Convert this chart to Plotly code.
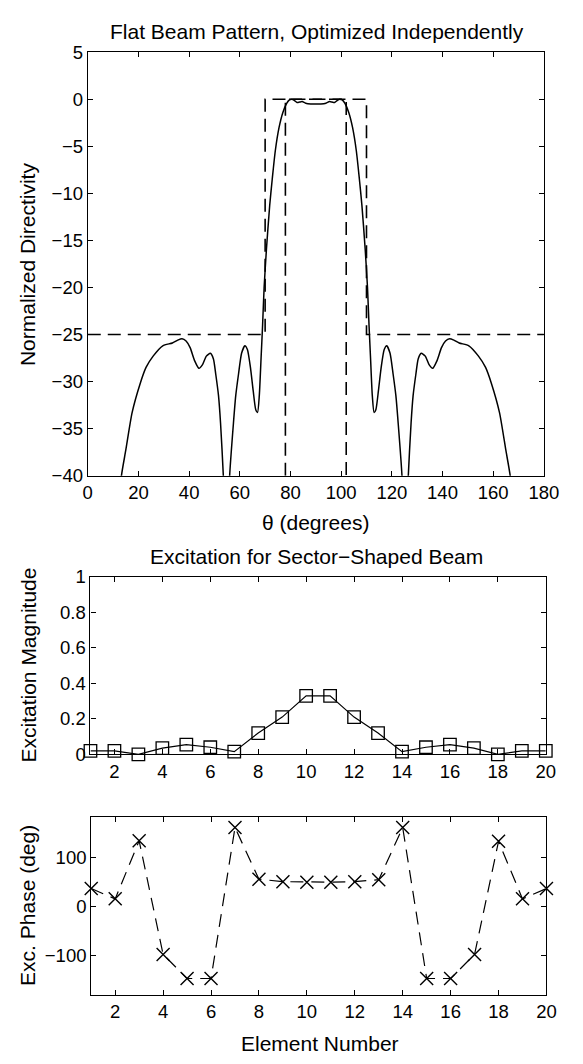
import plotly.graph_objects as go

# ---------------- data ----------------
# Top: normalized directivity pattern (dB) vs theta (deg), digitized
theta_deg = [12.6, 13.3, 15.0, 17.5, 20.7, 23.0, 25.8, 29.6, 33.4, 35.5, 37.2, 38.8,
             40.4, 42.2, 43.9, 45.3, 46.8, 48.4, 49.6, 50.5, 51.6, 52.4, 53.5, 54.2,
             54.8, 55.4, 56.0, 57.5, 58.4, 59.5, 60.7, 62.0, 63.0, 64.2, 65.3, 66.3,
             67.0, 67.7, 68.4, 69.0, 69.6, 70.5, 71.8, 72.8, 74.0, 75.5, 77.0, 78.5,
             79.6, 80.6, 81.6, 82.6, 83.6, 84.6, 86.0, 88.0, 90.0,
             92.0, 94.0, 95.4, 96.4, 97.4, 98.4, 99.4, 100.4, 101.5, 103.0, 104.5,
             106.0, 107.2, 108.2, 109.5, 110.4, 111.0, 111.6, 112.3, 113.0, 113.7,
             114.7, 115.8, 117.0, 118.0, 119.3, 120.5, 121.6, 122.5, 124.0, 124.6,
             125.2, 125.8, 126.5, 127.6, 128.4, 129.5, 130.4, 131.6, 133.2, 134.7,
             136.1, 137.8, 139.6, 141.2, 142.8, 144.5, 146.6, 150.4, 154.2, 157.0,
             159.3, 162.5, 165.0, 166.7, 167.4]
pattern_db = [-43.0, -40.0, -37.3, -33.3, -30.2, -28.5, -27.3, -26.2, -25.9, -25.6, -25.45, -25.7,
              -26.4, -27.8, -28.6, -28.2, -27.3, -27.0, -27.6, -29.2, -31.5, -34.4, -40.0, -46.0,
              -52.0, -46.0, -40.0, -34.4, -31.5, -29.2, -27.0, -26.2, -26.6, -28.5, -31.0, -33.0,
              -33.3, -31.5, -27.5, -24.0, -20.0, -16.0, -11.3, -8.5, -5.5, -3.0, -1.4, -0.45,
              -0.08, 0.0, -0.15, -0.35, -0.3, -0.25, -0.42, -0.5, -0.5,
              -0.5, -0.42, -0.25, -0.3, -0.35, -0.15, 0.0, -0.08, -0.45, -1.4, -3.0,
              -5.5, -8.5, -11.3, -16.0, -20.0, -24.0, -27.5, -31.5, -33.3, -33.0,
              -31.0, -28.5, -26.6, -26.2, -27.0, -29.2, -31.5, -34.4, -40.0, -46.0,
              -52.0, -46.0, -40.0, -34.4, -31.5, -29.2, -27.6, -27.0, -27.3, -28.2,
              -28.6, -27.8, -26.4, -25.7, -25.45, -25.6, -25.9, -26.2, -27.3, -28.5,
              -30.2, -33.3, -37.3, -40.0, -43.0]

# Top: mask lines (dashed)
upper_mask_theta = [0, 70, 70, 110, 110, 180]
upper_mask_db = [-25, -25, 0, 0, -25, -25]
lower_mask_theta = [78, 78, 102, 102]
lower_mask_db = [-40, 0, 0, -40]

# Middle / bottom: element excitations
element = list(range(1, 21))
exc_magnitude = [0.02, 0.02, 0.0, 0.035, 0.055, 0.04, 0.015, 0.12, 0.21, 0.33,
                 0.33, 0.21, 0.12, 0.015, 0.04, 0.055, 0.035, 0.0, 0.02, 0.02]
exc_phase = [36, 15, 133, -98, -147, -147, 160, 55, 50, 49,
             49, 50, 54, 160, -147, -147, -98, 132, 15, 36]

theta_ticks = list(range(0, 181, 20))
db_ticks = list(range(-40, 6, 5))
elem_ticks = list(range(2, 21, 2))
mag_ticks = [0, 0.2, 0.4, 0.6, 0.8, 1]
mag_ticktext = ["0", "0.2", "0.4", "0.6", "0.8", "1"]
phase_ticks = [-100, 0, 100]

# ---------------- figure ----------------
W, H = 583, 1064
FONT = "Liberation Sans, Arial, Helvetica, sans-serif"

def px_x(p):
    return p / W

def px_y(p):
    return 1 - p / H

fig = go.Figure()

DASH = "13px,7px"
fig.add_trace(go.Scatter(x=upper_mask_theta, y=upper_mask_db, mode="lines",
                         line=dict(color="black", width=1.6, dash=DASH),
                         xaxis="x", yaxis="y", showlegend=False))
fig.add_trace(go.Scatter(x=lower_mask_theta, y=lower_mask_db, mode="lines",
                         line=dict(color="black", width=1.6, dash=DASH),
                         xaxis="x", yaxis="y", showlegend=False))
fig.add_trace(go.Scatter(x=theta_deg, y=pattern_db, mode="lines",
                         line=dict(color="black", width=1.5, shape="spline", smoothing=0.6),
                         xaxis="x", yaxis="y", showlegend=False))

fig.add_trace(go.Scatter(x=element, y=exc_magnitude, mode="lines+markers",
                         line=dict(color="black", width=1.2),
                         marker=dict(symbol="square-open", size=12.5, color="black",
                                     line=dict(width=1.3, color="black")),
                         cliponaxis=False, xaxis="x2", yaxis="y2", showlegend=False))

fig.add_trace(go.Scatter(x=element, y=exc_phase, mode="lines+markers",
                         line=dict(color="black", width=1.2, dash="13px,8px"),
                         marker=dict(symbol="x-thin-open", size=13, color="black",
                                     line=dict(width=1.4, color="black")),
                         cliponaxis=False, xaxis="x3", yaxis="y3", showlegend=False))

axis_common = dict(showline=True, linecolor="black", linewidth=1.1, mirror="ticks",
                   ticks="inside", ticklen=5, tickwidth=1, tickcolor="black",
                   showgrid=False, zeroline=False,
                   tickfont=dict(family=FONT, size=18.5, color="black"))

top_x = [px_x(85.7), px_x(558)]
top_y = [px_y(474), px_y(42)]
mid_x = [px_x(88.5), px_x(560)]
mid_y = [px_y(758.3), px_y(577.3)]
bot_x = [px_x(89.3), px_x(560.7)]
bot_y = [px_y(1003.5), px_y(822)]

fig.update_layout(
    width=W, height=H,
    margin=dict(l=0, r=0, t=0, b=0),
    paper_bgcolor="white", plot_bgcolor="white",
    showlegend=False,
    xaxis=dict(axis_common, domain=top_x, range=[0, 180], tickvals=theta_ticks, anchor="y"),
    yaxis=dict(axis_common, domain=top_y, range=[-40, 5], tickvals=db_ticks, anchor="x"),
    xaxis2=dict(axis_common, domain=mid_x, range=[1, 20], tickvals=elem_ticks, anchor="y2"),
    yaxis2=dict(axis_common, domain=mid_y, range=[0, 1], tickvals=mag_ticks,
                ticktext=mag_ticktext, anchor="x2"),
    xaxis3=dict(axis_common, domain=bot_x, range=[1, 20], tickvals=elem_ticks, anchor="y3"),
    yaxis3=dict(axis_common, domain=bot_y, range=[-180, 182], tickvals=phase_ticks, anchor="x3"),
)

ann_font_title = dict(family=FONT, size=21, color="black")
ann_font_label = dict(family=FONT, size=21, color="black")
annotations = [
    dict(text="Flat Beam Pattern, Optimized Independently", x=px_x(323), y=px_y(20.5),
         font=ann_font_title),
    dict(text="θ (degrees)", x=px_x(321.5), y=px_y(521.7), font=ann_font_label),
    dict(text="Excitation for Sector−Shaped Beam", x=px_x(323), y=px_y(556.5),
         font=ann_font_title),
    dict(text="Element Number", x=px_x(326), y=px_y(1053), font=ann_font_label),
    dict(text="Normalized Directivity", x=px_x(24), y=px_y(258), textangle=-90,
         font=ann_font_label),
    dict(text="Excitation Magnitude", x=px_x(24), y=px_y(667.5), textangle=-90,
         font=ann_font_label),
    dict(text="Exc. Phase (deg)", x=px_x(24), y=px_y(912.75), textangle=-90,
         font=ann_font_label),
]
for a in annotations:
    a.update(xref="paper", yref="paper", showarrow=False, xanchor="center", yanchor="middle")
fig.update_layout(annotations=annotations)

fig.write_html("out.html",
               config={"displayModeBar": False},
               post_script="document.body.style.margin='0';document.body.style.overflow='hidden';")
